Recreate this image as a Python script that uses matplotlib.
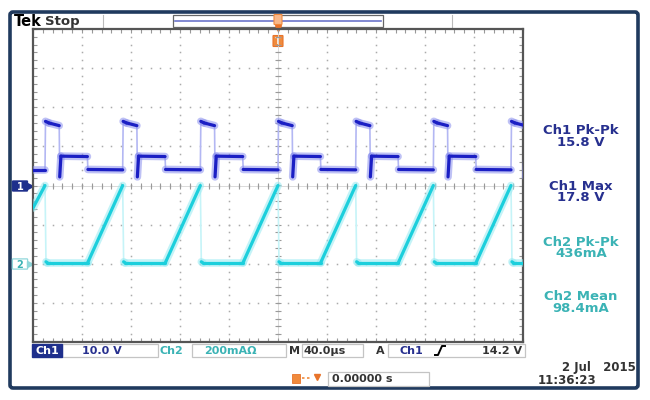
import numpy as np
import matplotlib
matplotlib.use("Agg")
import matplotlib.pyplot as plt
import matplotlib.patches as mpatches
from matplotlib.collections import LineCollection
from matplotlib.ticker import MultipleLocator

# scope settings
ch1_v_per_div = 10.0
ch2_ma_per_div = 200.0
t_per_div_us = 40.0
ch2_offset_div = -2.0

# rising edges of Ch1 (us from left edge of the screen)
rise_us = [9.8, 73.2, 136.6, 200.0, 263.4, 326.8, 390.2]

# one switching cycle, offsets from each rising edge
ch1_dt = [0.0, 0.4, 3.0, 11.6, 12.0, 13.0, 34.6, 35.0]
ch1_volts = [4.0, 16.4, 16.0, 15.3, 2.2, 7.5, 7.4, 4.1]
ch1_start = 4.0

ch2_dt = [0.0, 0.8, 2.0, 34.8]
ch2_ma = [400.0, 10.0, 5.0, 5.0]
ch2_start = 285.0

meas_labels = ["Ch1 Pk-Pk", "Ch1 Max", "Ch2 Pk-Pk", "Ch2 Mean"]
meas_values = ["15.8 V", "17.8 V", "436mA", "98.4mA"]

NAVY = "#27308f"
TEAL = "#3bb3b5"


def build(start, dts, vals):
    t = [0.0]
    v = [start]
    for e in rise_us:
        for d, val in zip(dts, vals):
            t.append(e + d)
            v.append(val)
    return np.array(t), np.array(v)


def split_segments(t, y):
    flat, edge = [], []
    for i in range(len(t) - 1):
        seg = [(t[i], y[i]), (t[i + 1], y[i + 1])]
        if t[i + 1] - t[i] >= 1.0:
            flat.append(seg)
        else:
            edge.append(seg)
    return flat, edge


fig = plt.figure(figsize=(6.5, 4), dpi=100)
bg = fig.add_axes([0, 0, 1, 1])
bg.set_xlim(0, 650)
bg.set_ylim(400, 0)
bg.axis("off")

# outer frame
bg.add_patch(mpatches.FancyBboxPatch((10, 12), 628, 376, boxstyle="round,pad=0,rounding_size=3",
                                     fc="white", ec="#203a5e", lw=2.6, zorder=0))

# top status line
bg.text(14, 21, "Tek", fontsize=10.5, fontweight="bold", color="black", va="center")
bg.text(45, 21, "Stop", fontsize=9.5, fontweight="bold", color="#333333", va="center")
bg.plot([103, 103], [15, 27], color="#bbbbbb", lw=0.8)
bg.plot([452, 452], [15, 27], color="#bbbbbb", lw=0.8)
bg.add_patch(mpatches.Rectangle((173, 15), 210, 12, fill=False, ec="#666666", lw=0.9))
bg.plot([175, 381], [20.5, 20.5], color="#6c74c9", lw=1.2)
bg.add_patch(mpatches.FancyBboxPatch((274.5, 15), 7, 9, boxstyle="round,pad=0.5",
                                     fc="#f7b88a", ec="#f08a3c", lw=0.8, zorder=5))
bg.plot(278, 28, marker="v", color="#e8732a", ms=4, zorder=5)
bg.add_patch(mpatches.FancyBboxPatch((273.5, 36), 9, 10, boxstyle="round,pad=0.5",
                                     fc="#f08a3c", ec="#e8732a", lw=0.8, zorder=5))
bg.text(278, 41.5, "T", fontsize=6, color="white", fontweight="bold", ha="center", va="center", zorder=6)

# channel ground markers
bg.add_patch(mpatches.FancyBboxPatch((13, 181.5), 14, 9, boxstyle="round,pad=0.6",
                                     fc="#1e2f8c", ec="#1e2f8c", lw=0.8))
bg.plot(30, 186, marker=">", color="#1e2f8c", ms=4)
bg.text(20, 186.5, "1", fontsize=7, color="white", fontweight="bold", ha="center", va="center")
bg.add_patch(mpatches.FancyBboxPatch((13, 259.5), 14, 9, boxstyle="round,pad=0.6",
                                     fc="white", ec="#8fd7da", lw=0.9))
bg.plot(30, 264, marker=">", color="#8fd7da", ms=4)
bg.text(20, 264.5, "2", fontsize=7, color=TEAL, fontweight="bold", ha="center", va="center")

# measurement readouts
meas_y = [131, 186, 242, 297]
for lab, val, y, c in zip(meas_labels, meas_values, meas_y, [NAVY, NAVY, TEAL, TEAL]):
    bg.text(581, y, lab, fontsize=9.5, fontweight="bold", color=c, ha="center", va="center")
    bg.text(581, y + 11.5, val, fontsize=9.5, fontweight="bold", color=c, ha="center", va="center")

# bottom status bar
for x0, x1, y0, y1 in [(62, 158, 344, 357), (192, 286, 344, 357), (302, 363, 344, 357),
                       (388, 525, 344, 357), (328, 429, 372, 386)]:
    bg.add_patch(mpatches.Rectangle((x0, y0), x1 - x0, y1 - y0, fill=False, ec="#c4c4c4", lw=0.9))
bg.add_patch(mpatches.Rectangle((32, 344), 30, 13, fc="#1e2f8c", ec="#1e2f8c"))
bg.text(47, 350.5, "Ch1", fontsize=8, fontweight="bold", color="white", ha="center", va="center")
bg.text(82, 350.5, "10.0 V", fontsize=8, fontweight="bold", color=NAVY, va="center")
bg.text(160, 350.5, "Ch2", fontsize=8, fontweight="bold", color=TEAL, va="center")
bg.text(204, 350.5, "200mA\u03a9", fontsize=8, fontweight="bold", color=TEAL, va="center")
bg.text(289, 350.5, "M", fontsize=8, fontweight="bold", color="#333333", va="center")
bg.text(304, 350.5, "40.0\u00b5s", fontsize=8, fontweight="bold", color="#333333", va="center")
bg.text(376, 350.5, "A", fontsize=8, fontweight="bold", color="#333333", va="center")
bg.text(400, 350.5, "Ch1", fontsize=8, fontweight="bold", color=NAVY, va="center")
bg.plot([435, 438, 442, 445], [355, 355, 346, 346], color="black", lw=1.4)
bg.text(522, 350.5, "14.2 V", fontsize=8, fontweight="bold", color="#333333", ha="right", va="center")

bg.add_patch(mpatches.Rectangle((292, 373.5), 8, 9, fc="#f08a3c", ec="#e8732a", lw=0.6))
bg.plot([302, 312], [378, 378], color="#f08a3c", lw=1.2, ls=(0, (1.5, 1.5)))
bg.plot(317, 377, marker="v", color="#e8732a", ms=4.5)
bg.text(332, 379, "0.00000 s", fontsize=8, fontweight="bold", color="#333333", va="center")
bg.text(636, 368, "2 Jul   2015", fontsize=8.5, fontweight="bold", color="#333333", ha="right", va="center")
bg.text(538, 380.5, "11:36:23", fontsize=8.5, fontweight="bold", color="#333333", va="center")

# graticule
ax = fig.add_axes([33 / 650, 58 / 400, 490 / 650, 313 / 400])
ax.set_facecolor("none")
ax.set_xlim(0, 10 * t_per_div_us)
ax.set_ylim(-4, 4)
for s in ax.spines.values():
    s.set_color("#555555")
    s.set_linewidth(1.6)
ax.xaxis.set_major_locator(MultipleLocator(t_per_div_us))
ax.xaxis.set_minor_locator(MultipleLocator(t_per_div_us / 5))
ax.yaxis.set_major_locator(MultipleLocator(1))
ax.yaxis.set_minor_locator(MultipleLocator(0.2))
ax.tick_params(which="both", direction="in", length=3, width=0.8, color="#999999",
               top=True, right=True, labelbottom=False, labelleft=False)

xmin = np.arange(0, 400.1, t_per_div_us / 5)
ymin = np.arange(-4, 4.01, 0.2)
for gx in np.arange(40, 400, 40):
    ax.plot(np.full(len(ymin), gx), ymin, ls="none", marker="s", ms=1.1, mew=0,
            color="#ababab", zorder=1)
for gy in np.arange(-3, 4, 1):
    ax.plot(xmin, np.full(len(xmin), gy), ls="none", marker="s", ms=1.1, mew=0,
            color="#ababab", zorder=1)
ax.plot([200, 200], [-4, 4], color="#d4d4d4", lw=0.6, zorder=1)
ax.plot([0, 400], [0, 0], color="#d4d4d4", lw=0.6, zorder=1)
ax.plot(np.full(len(ymin), 200), ymin, ls="none", marker="_", ms=4, mew=0.8, color="#9a9a9a", zorder=1)
ax.plot(xmin, np.zeros(len(xmin)), ls="none", marker="|", ms=4, mew=0.8, color="#9a9a9a", zorder=1)

# traces
t1, v1 = build(ch1_start, ch1_dt, ch1_volts)
t2, i2 = build(ch2_start, ch2_dt, ch2_ma)
y1 = v1 / ch1_v_per_div
y2 = i2 / ch2_ma_per_div + ch2_offset_div

for t, y, core, halo, edgec in [(t1, y1, "#1b1fc4", "#8a8fee", "#b3b7f3"),
                                (t2, y2, "#1ccfdc", "#95eaf2", "#c6f4f8")]:
    flat, edge = split_segments(t, y)
    ax.add_collection(LineCollection(edge, colors=edgec, linewidths=1.2, zorder=3))
    ax.add_collection(LineCollection(flat, colors=halo, linewidths=5.5, alpha=0.55,
                                     capstyle="round", zorder=3))
    ax.add_collection(LineCollection(flat, colors=core, linewidths=2.3,
                                     capstyle="round", zorder=4))

fig.savefig("out.png", dpi=100)
